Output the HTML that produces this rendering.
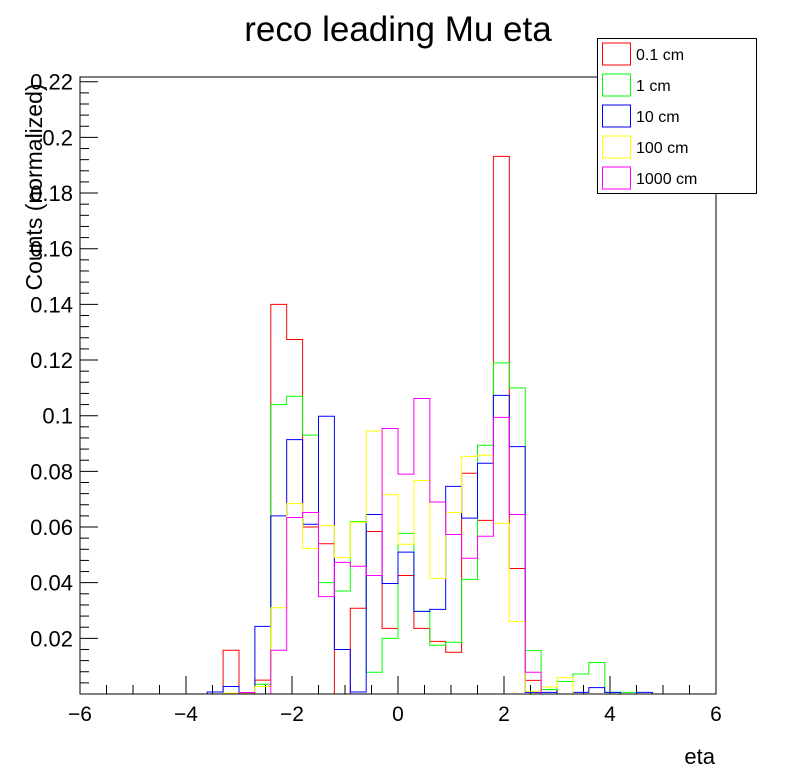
<!DOCTYPE html>
<html><head><meta charset="utf-8"><style>
html,body{margin:0;padding:0;background:#fff;}
svg{display:block;font-family:"Liberation Sans",sans-serif;}
</style></head><body>
<svg id="c" width="796" height="772" viewBox="0 0 796 772">
<text x="398" y="41" font-size="35" text-anchor="middle">reco leading Mu eta</text>
<text x="715" y="764" font-size="22" text-anchor="end">eta</text>
<text transform="translate(42,187) rotate(-90)" font-size="23" text-anchor="middle">Counts (normalized)</text>
<g id="axes"></g>
<g id="series"></g>
<rect x="80" y="77" width="636" height="617" fill="none" stroke="#000" stroke-width="1"/>
<g>
<rect x="597.5" y="38.5" width="159" height="155" fill="#fff" stroke="#000"/>
<g id="legend"></g>
</g>
</svg>
<script>
const xMin=-6, xMax=6, yMax=0.2217;
const binCount=40;
const seriesNames=["0.1 cm","1 cm","10 cm","100 cm","1000 cm"];
const seriesColors=["#ff0000","#00ff00","#0000ff","#ffff00","#ff00ff"];
const xTickLabels=[-6,-4,-2,0,2,4,6];
const yTickLabels=[0.02,0.04,0.06,0.08,0.1,0.12,0.14,0.16,0.18,0.2,0.22];
const red=[0,0,0,0,0,0,0,0,0,0.0157,0,0.005,0.140,0.1274,0.060,0.054,0,0.0308,0.0584,0.0236,0.0426,0.0236,0.0189,0.015,0.0793,0.0624,0.1932,0.0451,0.0049,0,0,0,0,0,0,0,0,0,0,0];
const green=[0,0,0,0,0,0,0,0,0,0,0,0.0035,0.104,0.107,0.093,0.040,0.037,0.062,0.0078,0.020,0.0577,0.0297,0.0175,0.0186,0.0412,0.0894,0.119,0.110,0.0156,0.0016,0.0045,0.0072,0.0113,0.0006,0.0006,0,0,0,0,0];
const blue=[0,0,0,0,0,0,0,0,0.0007,0.0027,0.0005,0.0243,0.064,0.0914,0.061,0.0998,0.016,0.0007,0.0645,0.0397,0.051,0.0297,0.0304,0.0746,0.0632,0.0829,0.1073,0.0889,0.0006,0.0006,0,0.0006,0.0023,0.0006,0,0.0006,0,0,0,0];
const yellow=[0,0,0,0,0,0,0,0,0,0.0003,0.0003,0.0027,0.031,0.0684,0.0523,0.0605,0.049,0.0617,0.0945,0.0716,0.0538,0.0767,0.0415,0.0652,0.0854,0.0858,0.0613,0.0261,0.001,0.0025,0.0059,0,0,0,0,0,0,0,0,0];
const magenta=[0,0,0,0,0,0,0,0,0,0,0.0005,0,0.0157,0.0634,0.0652,0.035,0.0473,0.0459,0.0426,0.0954,0.079,0.1062,0.069,0.0573,0.0488,0.0567,0.0994,0.0645,0.0078,0,0,0,0,0,0,0,0,0,0,0];
const allSeries=[red,green,blue,yellow,magenta];

const L=80,R=716,T=77,B=694;
const NS="http://www.w3.org/2000/svg";
function sx(v){return L+(v-xMin)/(xMax-xMin)*(R-L);}
function sy(v){return B-v/yMax*(B-T);}
function mk(tag,attrs,parent){const e=document.createElementNS(NS,tag);for(const k in attrs)e.setAttribute(k,attrs[k]);parent.appendChild(e);return e;}
const axes=document.getElementById('axes');
for(let v=xMin;v<=xMax+1e-9;v+=0.5){
  const major=Math.abs(v/2-Math.round(v/2))<1e-9;
  const t=mk('line',{x1:sx(v),x2:sx(v),y1:B,y2:B-(major?18:9),stroke:'#000'},axes);
  
  
}
xTickLabels.forEach(v=>{
  const t=mk('text',{x:sx(v),y:721,'font-size':21,'text-anchor':'middle'},axes);
  t.textContent=(v<0?'\u2212'+(-v):String(v));
  
  
});
for(let i=1;i*0.004<=yMax;i++){
  const v=i*0.004, major=i%5===0;
  const t=mk('line',{x1:L,x2:L+(major?18:9),y1:sy(v),y2:sy(v),stroke:'#000'},axes);
  
  
}
yTickLabels.forEach(v=>{
  const t=mk('text',{x:73,y:sy(v)+8,'font-size':22,'text-anchor':'end'},axes);
  t.textContent=String(v);
  
  
});
const sg=document.getElementById('series');
const bw=(xMax-xMin)/binCount;
allSeries.forEach((vals,si)=>{
  let d='M'+sx(xMin)+','+sy(0);
  vals.forEach((v,i)=>{
    const x0=sx(xMin+i*bw),x1=sx(xMin+(i+1)*bw);
    d+=' L'+x0+','+sy(v)+' L'+x1+','+sy(v);
  });
  d+=' L'+sx(xMax)+','+sy(0);
  const p=mk('path',{d:d,fill:'none',stroke:seriesColors[si],'stroke-width':1},sg);
  
  
});
const lg=document.getElementById('legend');
seriesNames.forEach((n,i)=>{
  const cy=54+i*31;
  const r=mk('rect',{x:602.5,y:cy-11,width:28,height:22,fill:'none',stroke:seriesColors[i]},lg);
  
  
  const t=mk('text',{x:636,y:cy+6,'font-size':16},lg);
  t.textContent=n;
  
  
});
</script>
</body></html>
